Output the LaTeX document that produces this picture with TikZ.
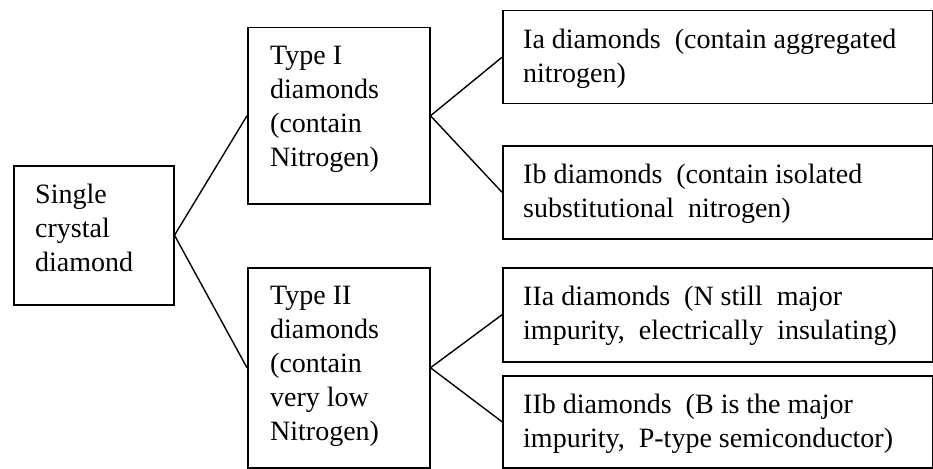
\documentclass[tikz,border=0pt]{standalone}
\usepackage{fontspec}
\setmainfont{Liberation Serif}
\begin{document}
\begin{tikzpicture}[x=1pt,y=-1pt,
  box/.style={draw,line width=1.5pt,rectangle,inner sep=0pt,anchor=north west},
  txt/.style={anchor=north west,inner sep=0pt,align=left,font=\fontsize{28}{34}\selectfont},
  conn/.style={line width=1.4pt}]
\useasboundingbox (0,0) rectangle (933,468);
% boxes
\node[box,minimum width=160pt,minimum height=139pt] (single) at (13,165) {};
\node[box,minimum width=182pt,minimum height=176pt] (t1) at (247,27) {};
\node[box,minimum width=182pt,minimum height=200pt] (t2) at (247,267) {};
\node[box,minimum width=430pt,minimum height=93pt] (ia) at (502,10) {};
\node[box,minimum width=430pt,minimum height=93pt] (ib) at (502,145) {};
\node[box,minimum width=430pt,minimum height=94pt] (iia) at (502,267) {};
\node[box,minimum width=430pt,minimum height=92pt] (iib) at (502,375) {};
% texts
\node[txt] (singletxt) at (35,184) {Single\\crystal\\diamond};
\node[txt] (t1txt) at (270,46) {Type I\\diamonds\\(contain\\Nitrogen)};
\node[txt] (t2txt) at (270,286) {Type II\\diamonds\\(contain\\very low\\Nitrogen)};
\node[txt] (iatxt) at (523,29) {Ia diamonds\ \ (contain aggregated\\nitrogen)};
\node[txt] (ibtxt) at (523,164) {Ib diamonds\ \ (contain isolated\\substitutional\ \ nitrogen)};
\node[txt] (iiatxt) at (523,286) {IIa diamonds\ \ (N still\ \ major\\impurity,\ \ electrically\ \ insulating)};
\node[txt] (iibtxt) at (523,394) {IIb diamonds\ \ (B is the major\\impurity,\ \ P-type semiconductor)};
% connectors
\draw[conn] (single.east) -- (t1.west);
\draw[conn] (single.east) -- (t2.west);
\draw[conn] (t1.east) -- (ia.west);
\draw[conn] (t1.east) -- (ib.west);
\draw[conn] (t2.east) -- (iia.west);
\draw[conn] (t2.east) -- (iib.west);
\end{tikzpicture}
\end{document}
